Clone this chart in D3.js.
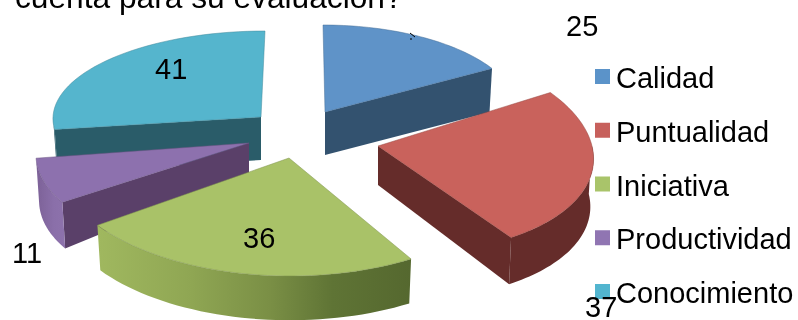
<!DOCTYPE html>
<html><head><meta charset="utf-8">
<script src="https://cdn.jsdelivr.net/npm/d3@7"></script>
<style>html,body{margin:0;padding:0;background:#fff}svg{display:block;filter:blur(.35px)}text{font-family:"Liberation Sans",Arial,sans-serif;fill:#000}</style>
</head><body><svg id="c" width="798" height="320"></svg>
<script>
const categories = ["Calidad","Puntualidad","Iniciativa","Productividad","Conocimiento"];
const values = [25,37,36,11,41];
const titleText = "cuenta para su evaluación?";
const topColors = ["#5f93c8","#c9625c","#a9c268","#8d71ae","#55b5cd"];
const sideColors = ["#33526f","#652c2a","#7f9448","#5a4069","#2a5c69"];
const legendColors = ["#5b93c9","#c7605c","#a9c46a","#9075b2","#52b5cf"];

// layout of the exploded, tilted pie
const pieCentre = [295,130];
const explode = [[30,-18],[83,16],[-6,28],[-46,13],[-34,-13]];
const radiusX = [194,214,234,212,208];
const radiusY = [87,107,118,104,86];
const shearX = [-2,-26,-1,22,4];
const depth = [43,48,46,47,43];
const apexDepth = [43,39,46,30,43];
const labelPos = [[566,36],[585,317],[243,248],[12,263],[155,79]];
const drawOrder = [4,0,3,1,2];
const bottomScale = 0.985;

const svg = d3.select("#c");
const defs = svg.append("defs");
const greenGrad = defs.append("linearGradient").attr("id","gGreen");
[[0,"#a0b85f"],[.3,"#8fa653"],[.55,"#7a8f45"],[.75,"#5f7435"],[1,"#55682f"]]
  .forEach(s=>greenGrad.append("stop").attr("offset",s[0]).attr("stop-color",s[1]));
const purpleGrad = defs.append("linearGradient").attr("id","gPurple");
[[0,"#7c6197"],[.6,"#8a6fa9"],[1,"#8d72ac"]]
  .forEach(s=>purpleGrad.append("stop").attr("offset",s[0]).attr("stop-color",s[1]));

const arcs = d3.pie().sort(null)(values);
const line = d3.line();
const toLevel = (i,a,low) => {
  const s = low ? bottomScale : 1;
  const ax = pieCentre[0]+explode[i][0], ay = pieCentre[1]+explode[i][1];
  return [ax + s*(radiusX[i]*Math.sin(a)+shearX[i]*Math.cos(a)),
          ay - s*radiusY[i]*Math.cos(a) + (low?depth[i]:0)];
};
const apex = (i,low) => [pieCentre[0]+explode[i][0], pieCentre[1]+explode[i][1]+(low?apexDepth[i]:0)];
const sweep = (a0,a1) => d3.range(41).map(k=>a0+(a1-a0)*k/40);

drawOrder.forEach(i=>{
  const a0 = arcs[i].startAngle, a1 = arcs[i].endAngle;
  const g = svg.append("g");
  if (Math.sin(a0) < -1e-6)
    g.append("path").attr("fill",sideColors[i])
     .attr("d",line([apex(i,false),toLevel(i,a0,false),toLevel(i,a0,true),apex(i,true)])+"Z");
  if (Math.sin(a1) > 1e-6)
    g.append("path").attr("fill",sideColors[i])
     .attr("d",line([apex(i,false),toLevel(i,a1,false),toLevel(i,a1,true),apex(i,true)])+"Z");
  const w0 = Math.max(a0,Math.PI/2), w1 = Math.min(a1,Math.PI*1.5);
  if (w1 > w0) {
    const up = sweep(w0,w1).map(a=>toLevel(i,a,false));
    const dn = sweep(w1,w0).map(a=>toLevel(i,a,true));
    const fill = i===2 ? "url(#gGreen)" : i===3 ? "url(#gPurple)" : sideColors[i];
    g.append("path").attr("fill",fill).attr("d",line(up.concat(dn))+"Z");
  }
  g.append("path").attr("fill",topColors[i])
   .attr("stroke",d3.color(topColors[i]).darker(.8)).attr("stroke-width",.5)
   .attr("d",line([apex(i,false)].concat(sweep(a0,a1).map(a=>toLevel(i,a,false))))+"Z");
});

svg.append("path").attr("d","M410 33L415 37M411 38L411 40").attr("stroke","#000").attr("fill","none").attr("stroke-width",1);

svg.append("text").attr("x",15).attr("y",8).attr("font-size",31.7).text(titleText);

const legendY = d3.scaleLinear().domain([0,4]).range([69,284]);
categories.forEach((c,i)=>{
  svg.append("rect").attr("x",595).attr("y",legendY(i)).attr("width",15).attr("height",15).attr("fill",legendColors[i]);
  svg.append("text").attr("x",616).attr("y",legendY(i)+19).attr("font-size",29).text(c);
});
values.forEach((v,i)=>{
  svg.append("text").attr("x",labelPos[i][0]).attr("y",labelPos[i][1]).attr("font-size",29).text(v);
});
</script></body></html>
